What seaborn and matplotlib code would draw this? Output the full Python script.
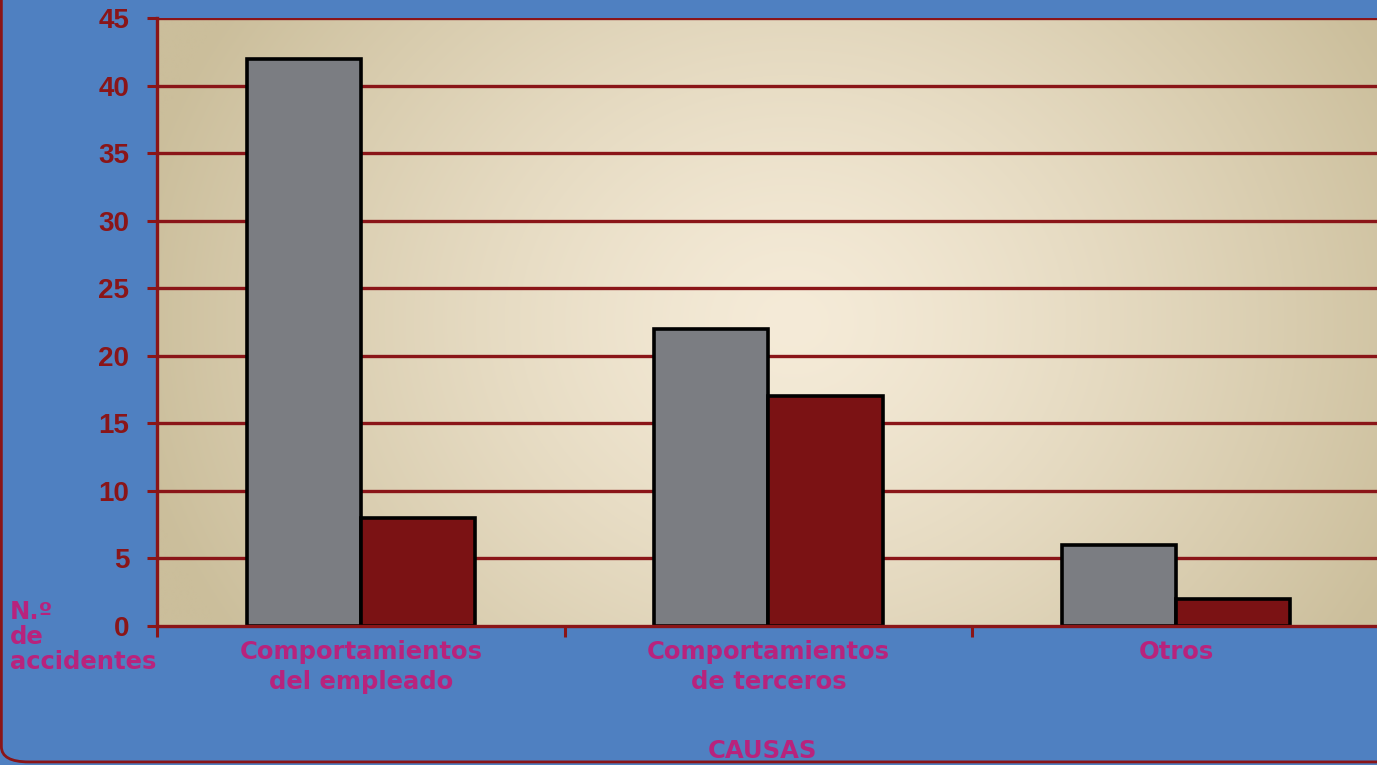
import numpy as np
import pandas as pd
import matplotlib
matplotlib.use("Agg")
import matplotlib.pyplot as plt
from matplotlib.patches import FancyBboxPatch
from matplotlib.colors import to_rgb
import seaborn as sns

# Data
categorias = ["Comportamientos\ndel empleado", "Comportamientos\nde terceros", "Otros"]
serie_a = [42, 22, 6]
serie_b = [8, 17, 2]
yticks = [0, 5, 10, 15, 20, 25, 30, 35, 40, 45]

df = pd.DataFrame({
    "causa": categorias * 2,
    "serie": ["A"] * 3 + ["B"] * 3,
    "valor": serie_a + serie_b,
})

BLUE = "#4f80c1"
DARKRED = "#8a1518"
MAGENTA = "#b8237d"
GRAY = "#7b7d82"
BARRED = "#7b1214"

sns.set_theme(style="white")
plt.rcParams["font.family"] = ["DejaVu Sans"]

fig = plt.figure(figsize=(13.77, 7.65), dpi=100, facecolor=BLUE)

# Rounded outer frame
frame = FancyBboxPatch((0.001, 0.004), 1.2, 1.2, boxstyle="round,pad=0,rounding_size=0.02",
                       transform=fig.transFigure, facecolor="none", edgecolor=DARKRED,
                       linewidth=2.0, zorder=0)
fig.patches.append(frame)

ax = fig.add_axes([157 / 1377, 139 / 765, 1 - 157 / 1377 + 0.002, (626 - 18) / 765])

# Beige background with a soft light centre
nx, ny = 400, 200
xs = np.linspace(0, 1, nx)
ys = np.linspace(0, 1, ny)
X, Y = np.meshgrid(xs, ys)
t = np.sqrt(((X - 0.52) / 0.55) ** 2 + ((Y - 0.5) / 0.95) ** 2)
t = np.clip(t, 0, 1) ** 1.3
light = np.array(to_rgb("#f5ebd8"))
dark = np.array(to_rgb("#cbbe9b"))
img = light[None, None, :] * (1 - t[..., None]) + dark[None, None, :] * t[..., None]
ax.imshow(img, extent=[0, 1, 0, 1], transform=ax.transAxes, aspect="auto",
          origin="lower", zorder=0, interpolation="bilinear")

sns.barplot(data=df, x="causa", y="valor", hue="serie", palette=[GRAY, BARRED],
            width=0.56, edgecolor="black", linewidth=2.6, saturation=1,
            legend=False, ax=ax, zorder=3)

ax.set_xlim(-0.5, 2.5)
ax.set_ylim(0, 45)
ax.set_yticks(yticks)
for y in yticks[1:]:
    ax.axhline(y, color=DARKRED, linewidth=2.4, zorder=2)

ax.set_xlabel("")
ax.set_ylabel("")

for s in ["top", "right"]:
    ax.spines[s].set_visible(False)
for s in ["left", "bottom"]:
    ax.spines[s].set_color(DARKRED)
    ax.spines[s].set_linewidth(2.4)
    ax.spines[s].set_zorder(4)

ax.tick_params(axis="y", colors=DARKRED, length=7, width=2.2, pad=13, left=True)
for lab in ax.get_yticklabels():
    lab.set_fontfamily("Liberation Sans")
    lab.set_fontweight("bold")
    lab.set_fontsize(20)
    lab.set_color(DARKRED)

# Category labels and boundary ticks on the x axis
ax.tick_params(axis="x", which="major", length=0, pad=10)
for lab in ax.get_xticklabels():
    lab.set_fontweight("bold")
    lab.set_fontsize(17.5)
    lab.set_color(MAGENTA)
    lab.set_linespacing(1.3)
ax.set_xticks([-0.5, 0.5, 1.5], minor=True)
ax.tick_params(axis="x", which="minor", bottom=True, length=8, width=2.2, color=DARKRED)

# Y-axis title, one word per line
for txt, ypx in [("N.º", 612), ("de", 637), ("accidentes", 662)]:
    fig.text(10 / 1377, (765 - ypx) / 765, txt, ha="left", va="center",
             fontsize=17.5, fontweight="bold", color=MAGENTA)
fig.text(762 / 1377, (765 - 751) / 765, "CAUSAS", ha="center", va="center",
         fontsize=17.5, fontweight="bold", color=MAGENTA)

fig.savefig("out.png", dpi=100, facecolor=BLUE)
